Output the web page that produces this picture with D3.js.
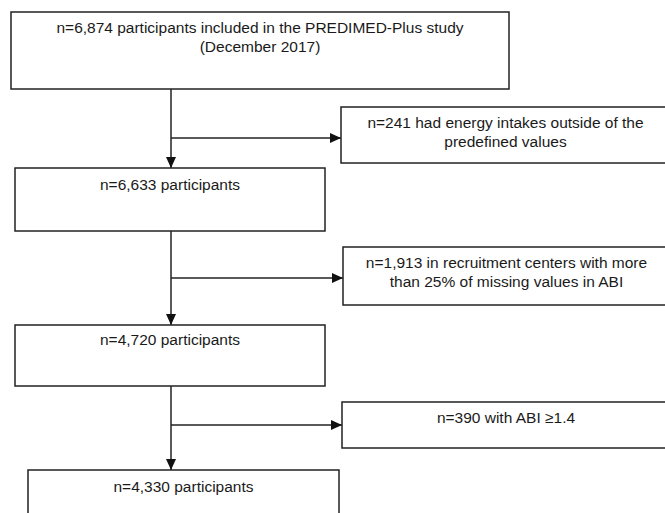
<!DOCTYPE html>
<html>
<head>
<meta charset="utf-8">
<script src="https://cdn.jsdelivr.net/npm/d3@7"></script>
<style>
  html, body { margin: 0; padding: 0; background: #fff; }
  svg { display: block; }
</style>
</head>
<body>
<div id="chart"></div>
<script>
// flow stages (kept participants) and exclusions between them
const stageLabels = [
  ['n=6,874 participants included in the PREDIMED-Plus study', '(December 2017)'],
  ['n=6,633 participants'],
  ['n=4,720 participants'],
  ['n=4,330 participants']
]
const exclusionLabels = [
  ['n=241 had energy intakes outside of the', 'predefined values'],
  ['n=1,913 in recruitment centers with more', 'than 25% of missing values in ABI'],
  ['n=390 with ABI \u22651.4']
]

// layout (pixels)
const width = 665
const height = 513
const stageBoxes = [
  { x0: 11, x1: 509, y0: 12, y1: 89 },
  { x0: 15, x1: 325, y0: 168, y1: 231 },
  { x0: 15, x1: 325, y0: 325, y1: 386 },
  { x0: 28, x1: 339, y0: 470, y1: 530 }
]
const exclusionBoxes = [
  { x0: 341, x1: 670, y0: 107, y1: 163 },
  { x0: 343, x1: 670, y0: 247, y1: 305 },
  { x0: 342, x1: 670, y0: 402, y1: 448 }
]
const branchY = [138, 278, 425]
const spineX = 171
const lineH = 19
const stroke = '#222'

const svg = d3.select('#chart')
  .append('svg')
  .attr('width', width)
  .attr('height', height)

svg.append('defs').append('marker')
  .attr('id', 'arrow')
  .attr('viewBox', '0 -5 11 10')
  .attr('refX', 11)
  .attr('refY', 0)
  .attr('markerWidth', 11)
  .attr('markerHeight', 10)
  .attr('markerUnits', 'userSpaceOnUse')
  .attr('orient', 'auto')
  .append('path')
  .attr('d', 'M0,-5L11,0L0,5Z')
  .attr('fill', '#111')

function drawBox(g, box, lines, firstY) {
  g.append('rect')
    .attr('x', box.x0)
    .attr('y', box.y0)
    .attr('width', box.x1 - box.x0)
    .attr('height', box.y1 - box.y0)
    .attr('fill', '#fff')
    .attr('stroke', stroke)
    .attr('stroke-width', 1.5)

  const cx = (box.x0 + box.x1) / 2
  g.selectAll(null)
    .data(lines)
    .join('text')
    .attr('x', cx)
    .attr('y', (d, i) => box.y0 + firstY + i * lineH)
    .attr('dy', '0.35em')
    .attr('text-anchor', 'middle')
    .attr('font-family', 'Liberation Sans, Arial, sans-serif')
    .attr('font-size', '15.5px')
    .attr('fill', '#1a1a1a')
    .text(d => d)
}

const links = svg.append('g')
  .attr('fill', 'none')
  .attr('stroke', stroke)
  .attr('stroke-width', 1.5)

exclusionLabels.forEach((_, i) => {
  const from = stageBoxes[i]
  const to = stageBoxes[i + 1]
  links.append('line')
    .attr('x1', spineX).attr('y1', from.y1)
    .attr('x2', spineX).attr('y2', to.y0)
    .attr('marker-end', 'url(#arrow)')
  links.append('line')
    .attr('x1', spineX).attr('y1', branchY[i])
    .attr('x2', exclusionBoxes[i].x0).attr('y2', branchY[i])
    .attr('marker-end', 'url(#arrow)')
})

const boxes = svg.append('g')
const stageTextY = [16, 17, 15, 17]
stageLabels.forEach((lines, i) => drawBox(boxes, stageBoxes[i], lines, stageTextY[i]))
const exclTextY = [16, 16, 16]
exclusionLabels.forEach((lines, i) => drawBox(boxes, exclusionBoxes[i], lines, exclTextY[i]))
</script>
</body>
</html>
